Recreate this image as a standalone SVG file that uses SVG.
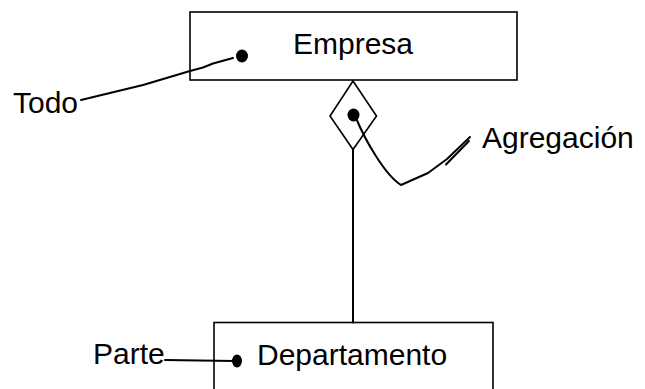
<svg xmlns="http://www.w3.org/2000/svg" width="645" height="389" viewBox="0 0 645 389">
<style>
.box{fill:#fff;stroke:#000;stroke-width:1.6}
.ln{fill:none;stroke:#000;stroke-width:2;stroke-linejoin:round;stroke-linecap:round}
.t{font-family:"Liberation Sans",Arial,sans-serif;font-size:30px;fill:#000}
</style>
<rect width="645" height="389" fill="#fff"/>
<g id="empresa">
<rect class="box" x="190" y="12" width="327" height="68"/>
<text class="t" x="293" y="54">Empresa</text>
</g>
<g id="agregacion-diamond">
<polygon class="box" points="353,81 376.5,116 353,149.5 330,116"/>
</g>
<g id="departamento">
<rect class="box" x="214" y="322.5" width="279" height="80"/>
<text class="t" x="257" y="365">Departamento</text>
</g>
<g id="connectors">
<line class="ln" x1="353" y1="149.5" x2="353" y2="322.5"/>
<path class="ln" d="M81,100 L143,85 L190,71 L203,67.5 L213,63.5 L233,58"/>
<path class="ln" d="M165,360 L234,361"/>
<path class="ln" d="M356,118 C365,140 385,175 401,185 L428,173 L447,159 L470,137"/>
<path class="ln" d="M446,164.5 L469,141" stroke-width="1.2"/>
<ellipse cx="353.5" cy="115" rx="6" ry="6.5" fill="#000"/>
<ellipse cx="242" cy="56" rx="6" ry="6.5" fill="#000"/>
<ellipse cx="237" cy="361" rx="5" ry="6.5" fill="#000"/>
</g>
<g id="labels">
<text class="t" x="13" y="113">Todo</text>
<text class="t" x="93" y="364">Parte</text>
<text class="t" x="482" y="148">Agregación</text>
</g>
</svg>
